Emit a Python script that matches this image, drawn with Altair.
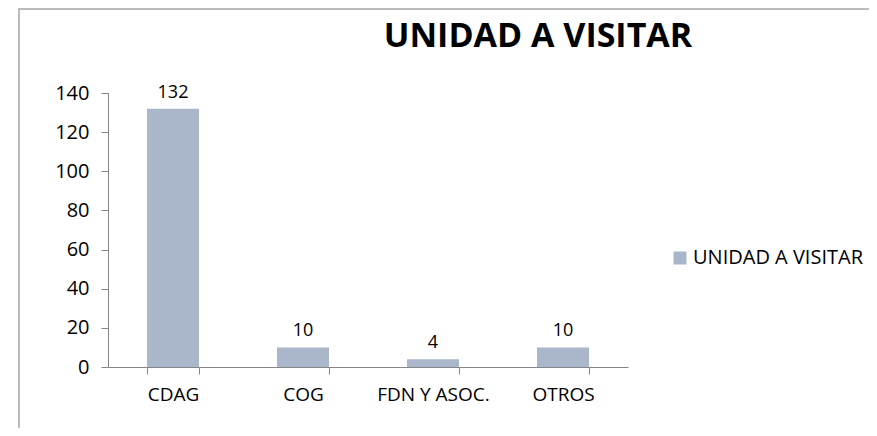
import altair as alt
import pandas as pd

categories = ["CDAG", "COG", "FDN Y ASOC.", "OTROS"]
values = [132, 10, 4, 10]
series_name = "UNIDAD A VISITAR"
y_ticks = [0, 20, 40, 60, 80, 100, 120, 140]

df = pd.DataFrame({"cat": categories, "val": values, "serie": [series_name] * len(categories)})

BAR = "#AAB6C9"
AXIS = "#868686"
FONT = "Open Sans"

x = alt.X("cat:N", sort=categories, title=None,
          scale=alt.Scale(paddingInner=0.6, paddingOuter=0.3),
          axis=alt.Axis(labelAngle=0, labelFont=FONT, labelFontSize=19, labelColor="#000000",
                        labelPadding=11, tickBand="extent", tickSize=7, tickColor=AXIS,
                        domainColor=AXIS, grid=False, labelOverlap=False))
y = alt.Y("val:Q", title=None,
          scale=alt.Scale(domain=[0, 140], nice=False),
          axis=alt.Axis(values=y_ticks, labelFont=FONT, labelFontSize=20, labelColor="#000000",
                        labelPadding=12, tickSize=7, tickColor=AXIS, domainColor=AXIS, grid=False,
                        labelOverlap=False, labelFlush=False))

base = alt.Chart(df).encode(x=x, y=y)

bars = base.mark_bar(color=BAR).encode(
    color=alt.Color("serie:N", scale=alt.Scale(range=[BAR]), title=None,
                    legend=alt.Legend(orient="none", legendX=562, legendY=155,
                                      symbolType="square", symbolSize=169, symbolStrokeWidth=0,
                                      symbolOpacity=1, labelLimit=400,
                                      labelFont=FONT, labelFontSize=20, labelColor="#000000",
                                      labelOffset=3)),
)

labels = base.mark_text(font=FONT, fontSize=18, color="#000000", baseline="alphabetic", dy=-11).encode(
    text="val:Q"
)

frame = alt.Chart(pd.DataFrame({"f": [0]})).mark_rect(fill="transparent", stroke="#A6A6A6", strokeWidth=1.5).encode(
    x=alt.value(-89), x2=alt.value(900), y=alt.value(-84), y2=alt.value(500)
)

chart = alt.layer(frame, bars, labels).properties(
    width=520, height=274,
    title=alt.TitleParams("UNIDAD A VISITAR", font=FONT, fontSize=34, fontWeight="bold",
                          color="#000000", anchor="middle", frame="group", baseline="alphabetic",
                          offset=0, dx=170, dy=73),
    autosize=alt.AutoSizeParams(type="none"),
    padding={"left": 100, "top": 85, "right": 241, "bottom": 61},
    background="#ffffff",
).configure_view(strokeWidth=0, stroke="transparent")

chart.save("out.html", embed_options={"renderer": "svg", "actions": False})
